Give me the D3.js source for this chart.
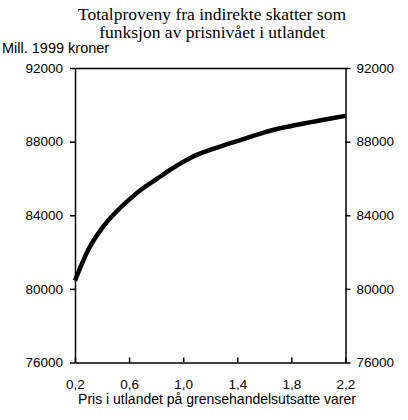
<!DOCTYPE html>
<html>
<head>
<meta charset="utf-8">
<script src="https://cdn.jsdelivr.net/npm/d3@7"></script>
<style>
  body { margin: 0; background: #fff; }
  svg text { fill: #000; }
</style>
</head>
<body>
<div id="chart"></div>
<script>
// prisnivå i utlandet (x) og totalproveny (mill. 1999 kroner)
const pris = [0.2, 0.3, 0.4, 0.5, 0.6, 0.7, 0.8, 0.9, 1.0, 1.1, 1.2,
              1.3, 1.4, 1.5, 1.6, 1.7, 1.8, 1.9, 2.0, 2.1, 2.2];
const proveny = [80450, 82150, 83300, 84150, 84850, 85450, 85950, 86450, 86900, 87280, 87550,
                 87800, 88030, 88270, 88500, 88700, 88850, 89000, 89130, 89270, 89400];
const xTicks = [0.2, 0.6, 1.0, 1.4, 1.8, 2.2];
const yTicks = [76000, 80000, 84000, 88000, 92000];
const titleLines = ["Totalproveny fra indirekte skatter som", "funksjon av prisnivået i utlandet"];

const W = 408, H = 420;
const margin = {top: 68, right: 62.5, bottom: 57.5, left: 75};
const width = W - margin.left - margin.right,
      height = H - margin.top - margin.bottom;

const svg = d3.select("#chart").append("svg")
  .attr("width", W).attr("height", H);

// tittel, en text per linje
svg.selectAll(".tittel")
  .data(titleLines)
  .join("text")
  .attr("class", "tittel")
  .attr("x", 212)
  .attr("y", (d, i) => 20 + i * 18)
  .attr("text-anchor", "middle")
  .style("font-family", "'Liberation Serif', serif")
  .style("font-size", "17.5px")
  .text(d => d);

svg.append("text")
  .attr("x", 2).attr("y", 53)
  .style("font-family", "'Liberation Sans', sans-serif")
  .style("font-size", "14.5px")
  .text("Mill. 1999 kroner");

const g = svg.append("g")
  .attr("transform", `translate(${margin.left}, ${margin.top})`);

const x = d3.scaleLinear().domain([0.2, 2.2]).range([0, width]);
const y = d3.scaleLinear().domain([76000, 92000]).range([height, 0]);

const komma = d => d3.format(".1f")(d).replace(".", ",");

function styleAxis(sel){
  sel.selectAll("path, line").attr("stroke", "#000").attr("stroke-width", 1.5);
  sel.selectAll("text")
    .style("font-family", "'Liberation Sans', sans-serif")
    .style("font-size", "13.5px")
    .attr("fill", "#000");
}

// venstre akse
g.append("g")
  .call(d3.axisLeft(y).tickValues(yTicks).tickFormat(d3.format("d")).tickSize(5).tickSizeOuter(0).tickPadding(7))
  .call(styleAxis);

// høyre akse
g.append("g")
  .attr("transform", `translate(${width}, 0)`)
  .call(d3.axisRight(y).tickValues(yTicks).tickFormat(d3.format("d")).tickSize(5).tickSizeOuter(0).tickPadding(6))
  .call(styleAxis);

// topplinje
g.append("g")
  .call(d3.axisTop(x).tickValues([]).tickSizeOuter(0))
  .call(styleAxis);

// x-akse, tick innover
g.append("g")
  .attr("transform", `translate(0, ${height})`)
  .call(d3.axisBottom(x).tickValues(xTicks).tickFormat(komma).tickSize(-5).tickSizeOuter(0).tickPadding(17))
  .call(styleAxis);

svg.append("text")
  .attr("x", 217).attr("y", 404)
  .attr("text-anchor", "middle")
  .style("font-family", "'Liberation Sans', sans-serif")
  .style("font-size", "14px")
  .text("Pris i utlandet på grensehandelsutsatte varer");

// kurven
const data = pris.map((p, i) => ({x: p, y: proveny[i]}));
g.append("path")
  .datum(data)
  .attr("fill", "none")
  .attr("stroke", "#000")
  .attr("stroke-width", 4.5)
  .attr("stroke-linejoin", "round")
  .attr("d", d3.line().x(d => x(d.x)).y(d => y(d.y)).curve(d3.curveMonotoneX));
</script>
</body>
</html>
